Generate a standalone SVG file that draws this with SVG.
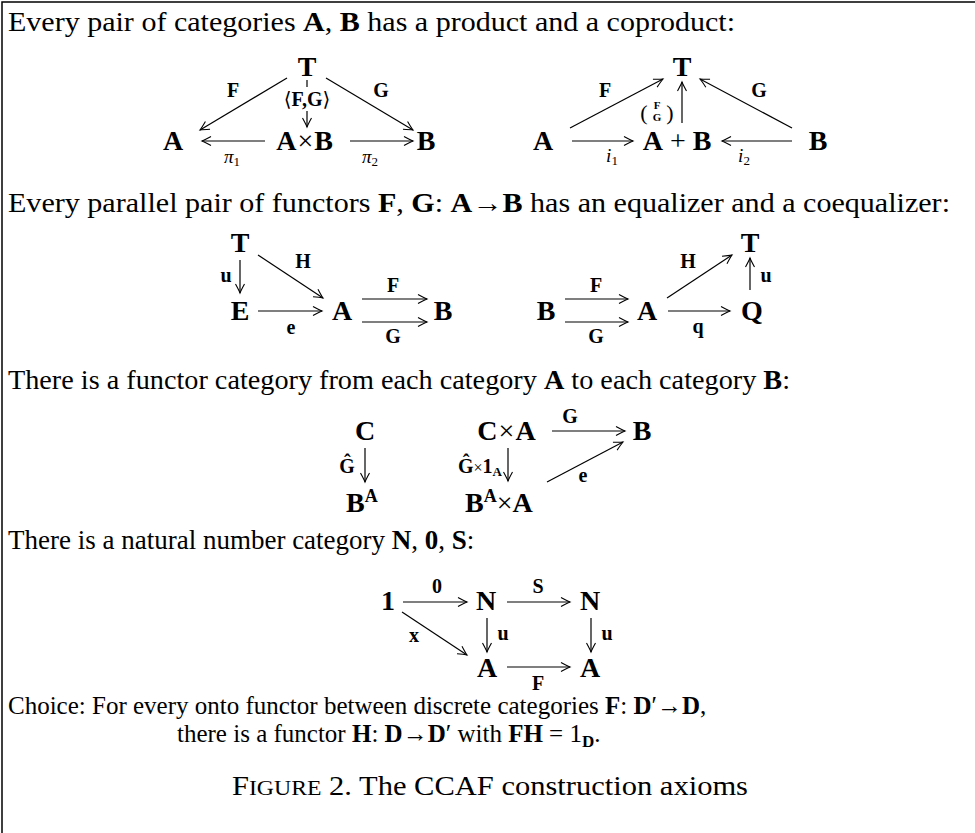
<svg xmlns="http://www.w3.org/2000/svg" width="975" height="833" viewBox="0 0 975 833">
<style>
text{font-family:"Liberation Serif","DejaVu Serif",serif;fill:#000}
.t{font-size:27px}
.c{font-size:25px}
.b{font-weight:bold}
.n{font-size:28px;font-weight:bold}
.l{font-size:20px;font-weight:bold}
.s{font-size:19px}
.m{text-anchor:middle}
.e{text-anchor:end}
.i{font-style:italic}
.ar line,.ar path{stroke:#000;stroke-width:1.2;fill:none;marker-end:url(#ah)}
</style>
<defs>
<marker id="ah" viewBox="-10 -6 12 12" markerWidth="12" markerHeight="12" refX="0" refY="0" orient="auto" markerUnits="userSpaceOnUse">
<path d="M-9,-4.5 Q-3,-1.2 0,0 Q-3,1.2 -9,4.5" fill="none" stroke="#000" stroke-width="1.1"/>
</marker>
</defs>
<rect width="975" height="833" fill="#fff"/>
<g id="frame" stroke="#000" stroke-width="1.5" fill="none"><path d="M2,833 V2 H975"/></g>

<text class="t" x="8" y="31" textLength="727" lengthAdjust="spacingAndGlyphs">Every pair of categories <tspan class="b">A</tspan>, <tspan class="b">B</tspan> has a product and a coproduct:</text>

<!-- product -->
<g id="prod-T"><text class="n m" x="307" y="76">T</text></g>
<g id="prod-A"><text class="n m" x="173" y="150">A</text></g>
<g id="prod-AxB"><text class="n m" x="305" y="150" letter-spacing="1">A<tspan font-weight="normal">×</tspan>B</text></g>
<g id="prod-B"><text class="n m" x="426" y="150">B</text></g>
<g id="prod-conn" class="ar">
<line x1="287" y1="78" x2="200" y2="130"/>
<line x1="326" y1="78" x2="413" y2="130"/>
<line x1="265" y1="141" x2="202" y2="141"/>
<line x1="350" y1="141" x2="413" y2="141"/>
<path d="M307,80 V87" style="marker-end:none"/>
<line x1="307" y1="111" x2="307" y2="127"/>
</g>
<g id="prod-labels">
<text class="l m" x="233" y="97">F</text>
<text class="l m" x="381" y="97">G</text>
<text class="l m" x="307" y="106"><tspan font-weight="normal">⟨</tspan>F,G<tspan font-weight="normal">⟩</tspan></text>
<text class="s m i" x="232" y="163">π<tspan font-size="13" font-style="normal" dy="3">1</tspan></text>
<text class="s m i" x="370" y="163">π<tspan font-size="13" font-style="normal" dy="3">2</tspan></text>
</g>

<!-- coproduct -->
<g id="cop-T"><text class="n m" x="682" y="76">T</text></g>
<g id="cop-A"><text class="n m" x="543" y="150">A</text></g>
<g id="cop-ApB"><text class="n m" x="677" y="150">A<tspan font-weight="normal"> + </tspan>B</text></g>
<g id="cop-B"><text class="n m" x="818" y="150">B</text></g>
<g id="cop-conn" class="ar">
<line x1="570" y1="128" x2="663" y2="79"/>
<line x1="792" y1="128" x2="700" y2="79"/>
<line x1="682" y1="123" x2="682" y2="82"/>
<line x1="572" y1="141" x2="633" y2="141"/>
<line x1="792" y1="141" x2="722" y2="141"/>
</g>
<g id="cop-labels">
<text class="m" x="644" y="120" font-size="22">(</text>
<text class="m" x="670" y="120" font-size="22">)</text>
<text class="m b" x="657" y="109" font-size="11">F</text>
<text class="m b" x="657" y="121" font-size="11">G</text>
<text class="l m" x="605" y="97">F</text>
<text class="l m" x="759" y="97">G</text>
<text class="s m i" x="612" y="162">i<tspan font-size="13" font-style="normal" dy="3">1</tspan></text>
<text class="s m i" x="744" y="162">i<tspan font-size="13" font-style="normal" dy="3">2</tspan></text>
</g>

<text class="t" x="8" y="212" textLength="942" lengthAdjust="spacingAndGlyphs">Every parallel pair of functors <tspan class="b">F</tspan>, <tspan class="b">G</tspan>: <tspan class="b">A</tspan>→<tspan class="b">B</tspan> has an equalizer and a coequalizer:</text>

<!-- equalizer -->
<g id="eq-T"><text class="n m" x="240" y="252">T</text></g>
<g id="eq-E"><text class="n m" x="240" y="320">E</text></g>
<g id="eq-A"><text class="n m" x="342" y="320">A</text></g>
<g id="eq-B"><text class="n m" x="443" y="320">B</text></g>
<g id="eq-conn" class="ar">
<line x1="240" y1="260" x2="240" y2="293"/>
<line x1="258" y1="255" x2="323" y2="298"/>
<line x1="258" y1="311" x2="322" y2="311"/>
<line x1="362" y1="299" x2="427" y2="299"/>
<line x1="362" y1="322" x2="427" y2="322"/>
</g>
<g id="eq-labels">
<text class="l m" x="226" y="282">u</text>
<text class="l m" x="303" y="268">H</text>
<text class="l m" x="291" y="334">e</text>
<text class="l m" x="393" y="292">F</text>
<text class="l m" x="393" y="343">G</text>
</g>

<!-- coequalizer -->
<g id="coeq-B"><text class="n m" x="546" y="320">B</text></g>
<g id="coeq-A"><text class="n m" x="647" y="320">A</text></g>
<g id="coeq-Q"><text class="n m" x="752" y="320">Q</text></g>
<g id="coeq-T"><text class="n m" x="750" y="252">T</text></g>
<g id="coeq-conn" class="ar">
<line x1="565" y1="299" x2="628" y2="299"/>
<line x1="565" y1="322" x2="628" y2="322"/>
<line x1="668" y1="311" x2="730" y2="311"/>
<line x1="667" y1="298" x2="732" y2="255"/>
<line x1="750" y1="290" x2="750" y2="258"/>
</g>
<g id="coeq-labels">
<text class="l m" x="596" y="292">F</text>
<text class="l m" x="596" y="343">G</text>
<text class="l m" x="698" y="333">q</text>
<text class="l m" x="688" y="268">H</text>
<text class="l m" x="766" y="282">u</text>
</g>

<text class="t" x="8" y="389" textLength="782" lengthAdjust="spacingAndGlyphs">There is a functor category from each category <tspan class="b">A</tspan> to each category <tspan class="b">B</tspan>:</text>

<!-- functor category -->
<g id="fc-C"><text class="n m" x="365" y="440">C</text></g>
<g id="fc-BA"><text class="n" x="346" y="512">B<tspan font-size="18" dy="-10">A</tspan></text></g>
<g id="fc-CxA"><text class="n m" x="507" y="440" letter-spacing="1">C<tspan font-weight="normal">×</tspan>A</text></g>
<g id="fc-B"><text class="n m" x="642" y="440">B</text></g>
<g id="fc-BAxA"><text class="n" x="465" y="512">B<tspan font-size="18" dy="-10">A</tspan><tspan dy="10" font-weight="normal">×</tspan>A</text></g>
<g id="fc-conn" class="ar">
<line x1="365" y1="448" x2="365" y2="482"/>
<line x1="508" y1="448" x2="508" y2="481"/>
<line x1="552" y1="431" x2="625" y2="431"/>
<line x1="547" y1="482" x2="623" y2="442"/>
</g>
<g id="fc-labels">
<text class="l m" x="347" y="473">Ĝ</text>
<text class="l e" x="502" y="473">Ĝ<tspan font-weight="normal" font-size="16">×</tspan>1<tspan font-size="13" dy="3">A</tspan></text>
<text class="l m" x="570" y="423">G</text>
<text class="l m" x="583" y="482">e</text>
</g>

<text class="t" x="8" y="549">There is a natural number category <tspan class="b">N</tspan>, <tspan class="b">0</tspan>, <tspan class="b">S</tspan>:</text>

<!-- NNO -->
<g id="nno-1"><text class="n m" x="388" y="610">1</text></g>
<g id="nno-N1"><text class="n m" x="486" y="610">N</text></g>
<g id="nno-N2"><text class="n m" x="590" y="610">N</text></g>
<g id="nno-A1"><text class="n m" x="487" y="677">A</text></g>
<g id="nno-A2"><text class="n m" x="590" y="677">A</text></g>
<g id="nno-conn" class="ar">
<line x1="403" y1="602" x2="467" y2="602"/>
<line x1="507" y1="602" x2="570" y2="602"/>
<line x1="487" y1="618" x2="487" y2="652"/>
<line x1="591" y1="618" x2="591" y2="652"/>
<line x1="402" y1="612" x2="467" y2="655"/>
<line x1="507" y1="667" x2="570" y2="667"/>
</g>
<g id="nno-labels">
<text class="l m" x="437" y="593">0</text>
<text class="l m" x="538" y="593">S</text>
<text class="l m" x="503" y="640">u</text>
<text class="l m" x="607" y="640">u</text>
<text class="l m" x="414" y="642">x</text>
<text class="l m" x="538" y="690">F</text>
</g>

<text class="c" x="8" y="714">Choice:</text>
<text class="c" x="92" y="714">For every onto functor between discrete categories <tspan class="b">F</tspan>: <tspan class="b">D</tspan>′→<tspan class="b">D</tspan>,</text>
<text class="c" x="177" y="742">there is a functor <tspan class="b">H</tspan>: <tspan class="b">D</tspan>→<tspan class="b">D</tspan>′ with <tspan class="b">FH</tspan> = 1<tspan class="b" font-size="17" dy="5">D</tspan><tspan dy="-5">.</tspan></text>

<text class="t" x="232" y="795" textLength="516" lengthAdjust="spacingAndGlyphs">F<tspan font-size="21">IGURE</tspan> 2.  The CCAF construction axioms</text>
</svg>
